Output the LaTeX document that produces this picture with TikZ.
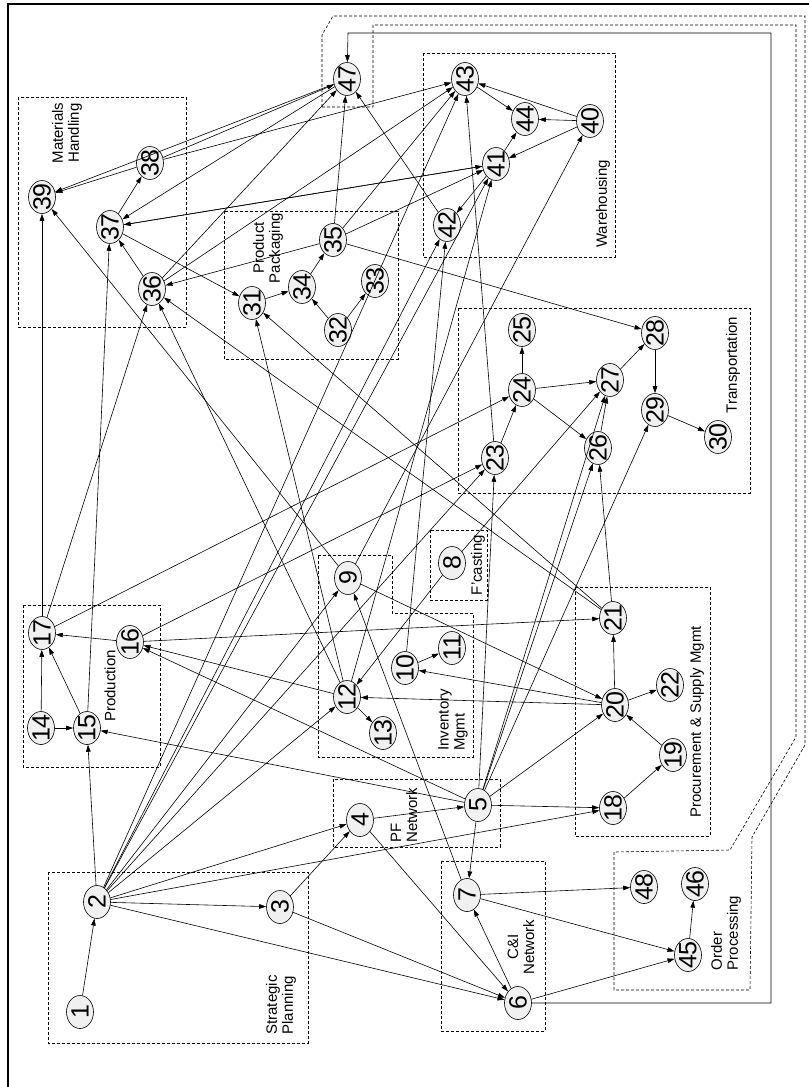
\documentclass[tikz,border=0pt]{standalone}
\usepackage{fontspec}
\setmainfont{Liberation Sans}
\usetikzlibrary{shapes.geometric,arrows.meta}
\begin{document}
\begin{tikzpicture}[x=1pt,y=-1pt,
  nd/.style={ellipse,draw,line width=0.6pt,fill=gray!12,inner sep=0pt,minimum width=33pt,minimum height=27pt,rotate=90,font=\fontsize{25}{25}\selectfont},
  ar/.style={-{Triangle[length=7pt,width=4.6pt]},line width=0.6pt},
  grp/.style={dashed,dash pattern=on 3pt off 2pt,line width=0.6pt},
  lbl/.style={rotate=90,font=\fontsize{15}{16}\selectfont,inner sep=0pt}]
\useasboundingbox (0,0) rectangle (809,1087);
% frame
\draw[line width=1.6pt] (8,1087) -- (8,4) -- (809,4);
% groups
\draw[grp] (18,97) rectangle (186,327);
\draw[grp] (224,211) rectangle (398,359);
\draw[grp] (423,53) rectangle (615,257);
\draw[grp] (458,308) rectangle (750,493);
\draw[grp] (430,530) rectangle (487,600);
\draw[grp] (333,779) rectangle (500,847);
\draw[grp] (441,861) rectangle (545,1031);
\draw[grp] (575,587) rectangle (710,836);
\draw[grp] (23,605) rectangle (160,767);
\draw[grp] (48,872) rectangle (308,1043);
\draw[grp] (318,555) -- (392,555) -- (392,613) -- (473,613) -- (473,757) -- (318,757) -- cycle;
\draw[grp] (322,107) -- (322,35) -- (333,16) -- (805,16) -- (805,745) -- (752,837) -- (750,990) -- (614,990) -- (614,852) -- (730,850) -- (796,737) -- (796,25) -- (373,25) -- (373,107) -- cycle;
% group labels
\node[lbl,align=center] (tMH) at (67,133) {Materials\\Handling};
\node[lbl,align=center] (tPP) at (268,248) {Product\\Packaging};
\node[lbl] (tWH) at (603,204) {Warehousing};
\node[lbl] (tTR) at (733,365) {Transportation};
\node[lbl] (tFC) at (478,565) {F'casting};
\node[lbl,align=left] (tPF) at (404,815) {PF\\Network};
\node[lbl,align=center] (tCI) at (521,947) {C\&I\\Network};
\node[lbl,align=left] (tOP) at (726,933) {Order\\Processing};
\node[lbl] (tPS) at (697,722) {Procurement \& Supply Mgmt};
\node[lbl] (tPR) at (110,686) {Production};
\node[lbl,align=left] (tIM) at (453,720) {Inventory\\Mgmt};
\node[lbl,align=left] (tSP) at (281,1005) {Strategic\\Planning};
% nodes
\foreach \n/\x/\y in {1/80/1012,2/97/902,3/280/907,4/360/820,5/478/805,6/518/1003,7/467/895,8/452/563,9/348/578,10/405/668,11/452/648,12/347/697,13/383/733,14/41/728,15/87/728,16/130/642,17/42/633,18/613/808,19/673/755,20/615/705,21/613/618,22/670/685,23/495/458,24/522/390,25/522/330,26/598/448,27/610/380,28/655/333,29/655/410,30/718/437,31/252/303,32/338/330,33/375/281,34/302/287,35/333/240,36/152/289,37/110/227,38/150/163,39/42/197,40/590/121,41/496/164,42/447/225,43/465/79,44/525/119,45/688/955,46/695/884,47/347/79,48/644/887}
  \node[nd] (n\n) at (\x,\y) {\makebox[0pt]{\n}};
% routed connector 6 -> 47
\coordinate (r1) at (771,1003);
\coordinate (r2) at (771,33);
\coordinate (r3) at (348,33);
\draw[ar] (n6) -- (r1) -- (r2) -- (r3) -- (n47);
% connectors
\foreach \a/\b in {1/2,2/3,2/4,3/4,2/6,3/6,4/6,2/15,2/18,2/12,2/9,2/23,2/42,2/41,2/43,
  4/5,5/7,6/7,7/9,7/48,7/45,6/45,45/46,
  5/18,18/19,19/20,5/20,5/15,5/16,5/23,5/26,5/27,5/29,
  20/21,20/22,20/10,20/12,21/26,21/36,21/31,16/21,
  12/16,12/13,12/31,12/36,12/41,10/11,10/42,8/12,8/27,
  9/39,9/20,9/40,
  14/15,14/17,15/17,16/17,17/39,17/36,17/24,16/23,15/37,
  23/24,23/43,24/25,24/26,24/27,26/27,27/28,28/29,29/30,
  31/34,32/34,32/33,34/35,35/36,35/47,35/28,35/43,35/41,
  36/37,36/47,36/43,37/38,37/31,37/41,41/37,47/37,47/39,38/47,38/43,38/39,
  40/43,40/44,43/44,41/44,40/41,41/42,42/47}
  \draw[ar] (n\a) -- (n\b);
\end{tikzpicture}
\end{document}
